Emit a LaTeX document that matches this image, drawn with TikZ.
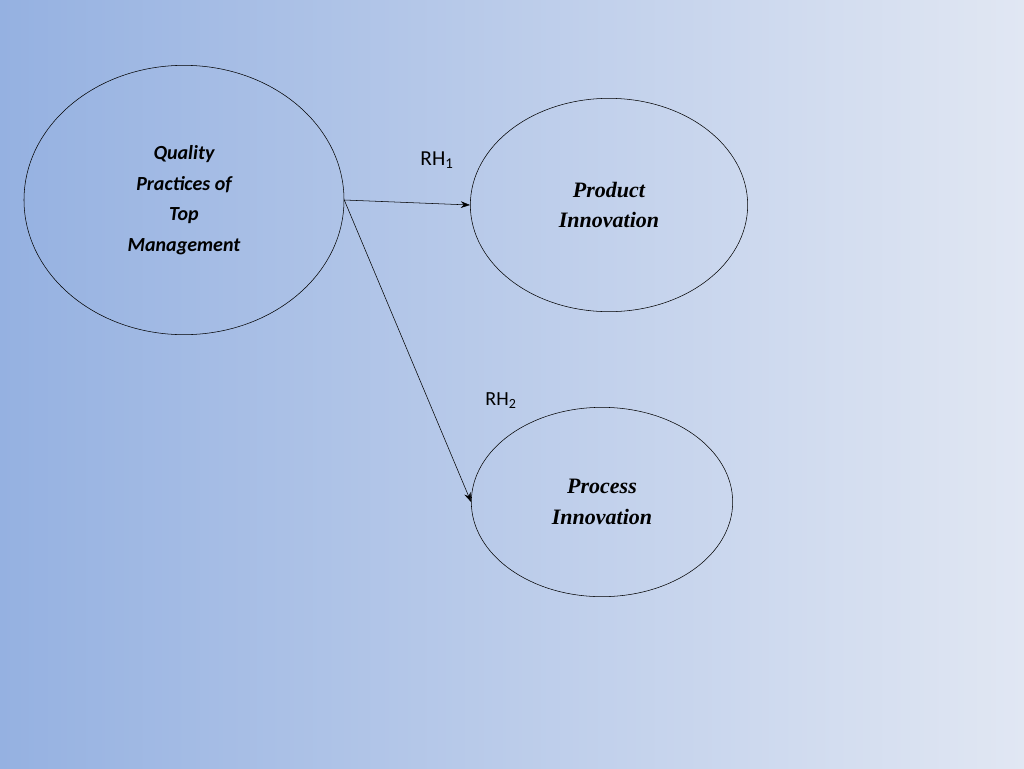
\documentclass[tikz,border=0pt]{standalone}
\usepackage{fontspec}
\setmainfont{Liberation Serif}
\newfontfamily\calib{Carlito}
\usetikzlibrary{shapes.geometric,arrows.meta}
\definecolor{bgleft}{HTML}{95B1E1}
\definecolor{bgright}{HTML}{E1E7F3}

\begin{document}
\begin{tikzpicture}[x=0.75pt, y=-0.75pt,
  every node/.style={inner sep=0pt},
  construct/.style={ellipse, draw, align=center},
  hyp/.style={-{Stealth[length=7pt,width=5pt]}}]
  \shade[left color=bgleft, right color=bgright] (0,0) rectangle (1024,768);

  \node[construct, minimum width=240, minimum height=202, font=\calib\bfseries\itshape\fontsize{15}{23}\selectfont]
    (quality) at (184,200) {Quality\\Practices of\\Top\\Management};
  \node[construct, minimum width=208, minimum height=160, font=\bfseries\itshape\fontsize{16.5}{23}\selectfont]
    (product) at (609,205) {Product\\Innovation};
  \node[construct, minimum width=196, minimum height=142, font=\bfseries\itshape\fontsize{16.5}{23}\selectfont]
    (process) at (602,502) {Process\\Innovation};

  \node[font=\calib\fontsize{16}{19}\selectfont] (rh1) at (437,160) {RH\textsubscript{1}};
  \node[font=\calib\fontsize{15}{18}\selectfont] (rh2) at (501,401) {RH\textsubscript{2}};

  \draw[hyp] (quality.east) -- (product.west);
  \draw[hyp] (quality.east) -- (process.west);
\end{tikzpicture}
\end{document}
